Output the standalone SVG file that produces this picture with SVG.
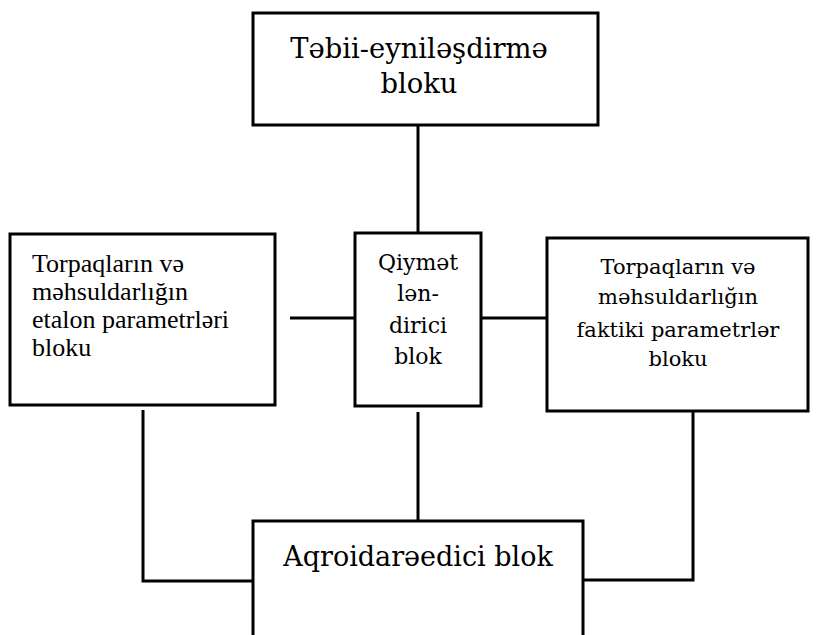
<svg xmlns="http://www.w3.org/2000/svg" width="821" height="635" viewBox="0 0 821 635">
<style>
.box{fill:#fff;stroke:#000;stroke-width:3}
.ln{fill:none;stroke:#000;stroke-width:3}
.c{font-family:"DejaVu Serif","Liberation Serif",serif;fill:#000;text-anchor:middle}
.t{font-family:"Liberation Serif","Times New Roman",serif;fill:#000;font-size:26px}
</style>
<rect width="821" height="635" fill="#fff"/>
<g id="connectors">
<path class="ln" d="M418 125V233"/>
<path class="ln" d="M290 318H355"/>
<path class="ln" d="M481 318H547"/>
<path class="ln" d="M143 410V581H253"/>
<path class="ln" d="M418 412V521"/>
<path class="ln" d="M693 412V580H583"/>
</g>
<g id="top">
<rect class="box" x="253" y="13" width="345" height="112"/>
<text class="c" font-size="27.4"><tspan x="419" y="58">Təbii-eyniləşdirmə</tspan><tspan x="419" y="93">bloku</tspan></text>
</g>
<g id="left">
<rect class="box" x="10" y="234" width="265" height="171"/>
<text class="t"><tspan x="32" y="272">Torpaqların və</tspan><tspan x="32" y="300">məhsuldarlığın</tspan><tspan x="32" y="328">etalon parametrləri</tspan><tspan x="32" y="356">bloku</tspan></text>
</g>
<g id="middle">
<rect class="box" x="355" y="233" width="126" height="173"/>
<text class="c" font-size="22"><tspan x="418" y="270">Qiymət</tspan><tspan x="418" y="301">lən-</tspan><tspan x="418" y="333">dirici</tspan><tspan x="418" y="364">blok</tspan></text>
</g>
<g id="right">
<rect class="box" x="547" y="238" width="261" height="173"/>
<text class="c" font-size="21"><tspan x="678" y="274">Torpaqların və</tspan><tspan x="678" y="304">məhsuldarlığın</tspan><tspan x="678" y="337">faktiki parametrlər</tspan><tspan x="678" y="366">bloku</tspan></text>
</g>
<g id="bottom">
<path class="box" d="M253 640V521H583V640"/>
<text class="c" font-size="27" x="418" y="566">Aqroidarəedici blok</text>
</g>
</svg>
